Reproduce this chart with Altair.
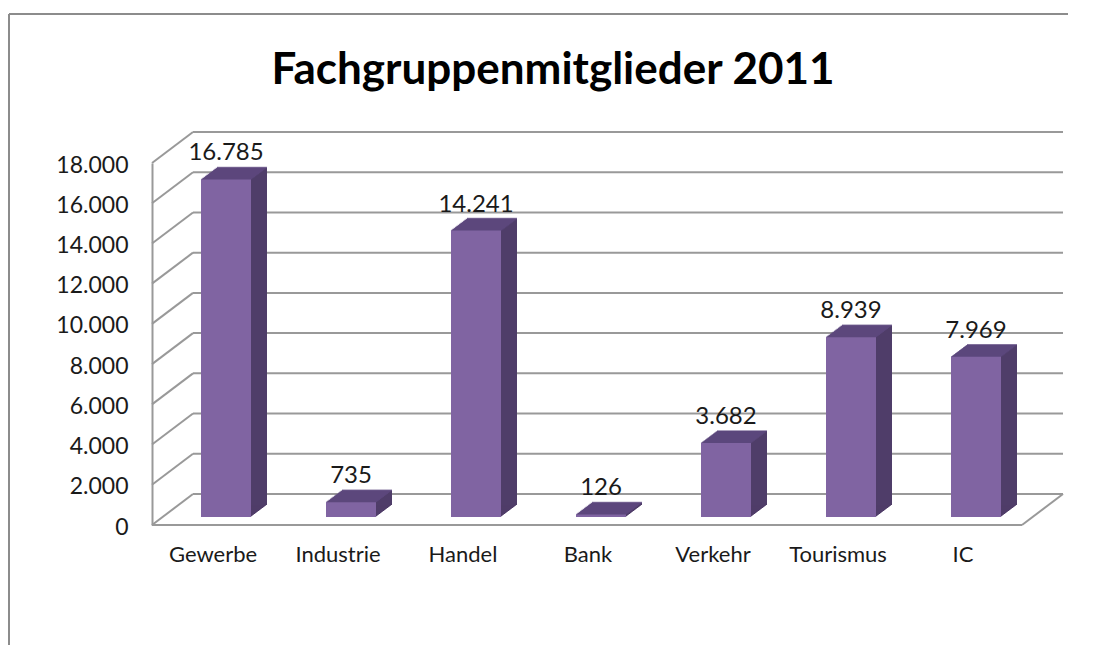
import altair as alt
import pandas as pd

categories = ["Gewerbe", "Industrie", "Handel", "Bank", "Verkehr", "Tourismus", "IC"]
values = [16785, 735, 14241, 126, 3682, 8939, 7969]
tick_values = [0, 2000, 4000, 6000, 8000, 10000, 12000, 14000, 16000, 18000]
title_text = "Fachgruppenmitglieder 2011"

FONT = "Lato"
FRONT = "#8064A2"
SIDE = "#4F3D69"
TOP = "#5F4A82"
GRID = "#999999"
TXT = "#1a1a1a"

W, H = 872, 362
DX_WALL, DY_WALL = 41, 31      # depth of the 3D box
BAR_DX, BAR_DY = 13, 8         # bars sit inside the box
EXT_X, EXT_Y = 16, 12          # bar extrusion
RIGHT_PAD = 64

bars = pd.DataFrame({
    "cat": categories,
    "val": values,
    "lab": [f"{v:,}".replace(",", ".") for v in values],
})
ticks = pd.DataFrame({"t": tick_values})
frame = pd.DataFrame({"one": [1]})

yscale = alt.Scale(domain=[0, 18000], nice=False)
yaxis = alt.Axis(title=None, values=tick_values, grid=False, ticks=False,
                 domain=True, domainColor=GRID, domainWidth=2,
                 labelFont=FONT, labelFontSize=23, labelColor=TXT,
                 labelPadding=24, labelOffset=2,
                 labelExpr="replace(format(datum.value, ',.0f'), ',', '.')")

xs = alt.X("cat:N", sort=categories,
           scale=alt.Scale(paddingInner=0.6, paddingOuter=0.288),
           axis=alt.Axis(title=None, domain=False, ticks=False, labelAngle=0,
                         labelFont=FONT, labelFontSize=22, labelColor=TXT,
                         labelPadding=19))
ys = alt.Y("val:Q", scale=yscale, axis=yaxis)
yt = alt.Y("t:Q", scale=yscale, axis=yaxis)

layers = []

# outer frame: top and left edges
layers.append(alt.Chart(frame).mark_rule(color="#8c8c8c", strokeWidth=2).encode(
    x=alt.value(-143), x2=alt.value(W + RIGHT_PAD - 20), y=alt.value(-149)))
layers.append(alt.Chart(frame).mark_rule(color="#8c8c8c", strokeWidth=2).encode(
    x=alt.value(-143), y=alt.value(-149), y2=alt.value(H + 135)))

# back wall gridlines
layers.append(alt.Chart(ticks).mark_rule(color=GRID, strokeWidth=2, yOffset=-DY_WALL).encode(
    x=alt.value(DX_WALL), x2=alt.value(W + 39), y=yt))
# left wall diagonals
layers.append(alt.Chart(ticks).mark_rule(color=GRID, strokeWidth=2, y2Offset=-DY_WALL).encode(
    x=alt.value(0), x2=alt.value(DX_WALL), y=yt, y2="t:Q"))
# floor front edge and right edge
layers.append(alt.Chart(frame).mark_rule(color=GRID, strokeWidth=2).encode(
    x=alt.value(0), x2=alt.value(W - 2), y=alt.datum(0, scale=yscale, axis=yaxis)))
layers.append(alt.Chart(frame).mark_rule(color=GRID, strokeWidth=2, y2Offset=-DY_WALL).encode(
    x=alt.value(W - 2), x2=alt.value(W + 39), y=alt.datum(0, scale=yscale, axis=yaxis), y2=alt.datum(0)))

# bar extrusion (side face)
for k in range(1, EXT_X + 1):
    oy = -BAR_DY - k * EXT_Y / EXT_X
    layers.append(alt.Chart(bars).mark_bar(color=SIDE, xOffset=BAR_DX + k, yOffset=oy, y2Offset=oy).encode(
        x=xs, y=ys))
# top face
for j in range(0, EXT_Y + 1):
    layers.append(alt.Chart(bars).mark_tick(color=TOP, size=50, thickness=1.6,
                                            xOffset=BAR_DX + j * EXT_X / EXT_Y, yOffset=-BAR_DY - j).encode(
        x=xs, y=ys))
# front face
layers.append(alt.Chart(bars).mark_bar(color=FRONT, xOffset=BAR_DX, yOffset=-BAR_DY, y2Offset=-BAR_DY).encode(
    x=xs, y=ys))
# value labels
layers.append(alt.Chart(bars).mark_text(font=FONT, fontSize=24, color=TXT, baseline="alphabetic",
                                        xOffset=BAR_DX, yOffset=-BAR_DY - 19).encode(
    x=xs, y=ys, text="lab:N"))
# title
layers.append(alt.Chart(frame).mark_text(font=FONT, fontSize=44, fontWeight="bold", color="#000000",
                                         baseline="middle", align="center").encode(
    x=alt.value(401), y=alt.value(-92), text=alt.value(title_text)))

chart = alt.layer(*layers).properties(
    width=W, height=H,
    autosize=alt.AutoSizeParams(type="none"),
    padding={"left": 144, "top": 155, "right": RIGHT_PAD, "bottom": 120},
).configure_view(stroke=None)

chart.save("out.html", embed_options={"renderer": "svg", "actions": False})
